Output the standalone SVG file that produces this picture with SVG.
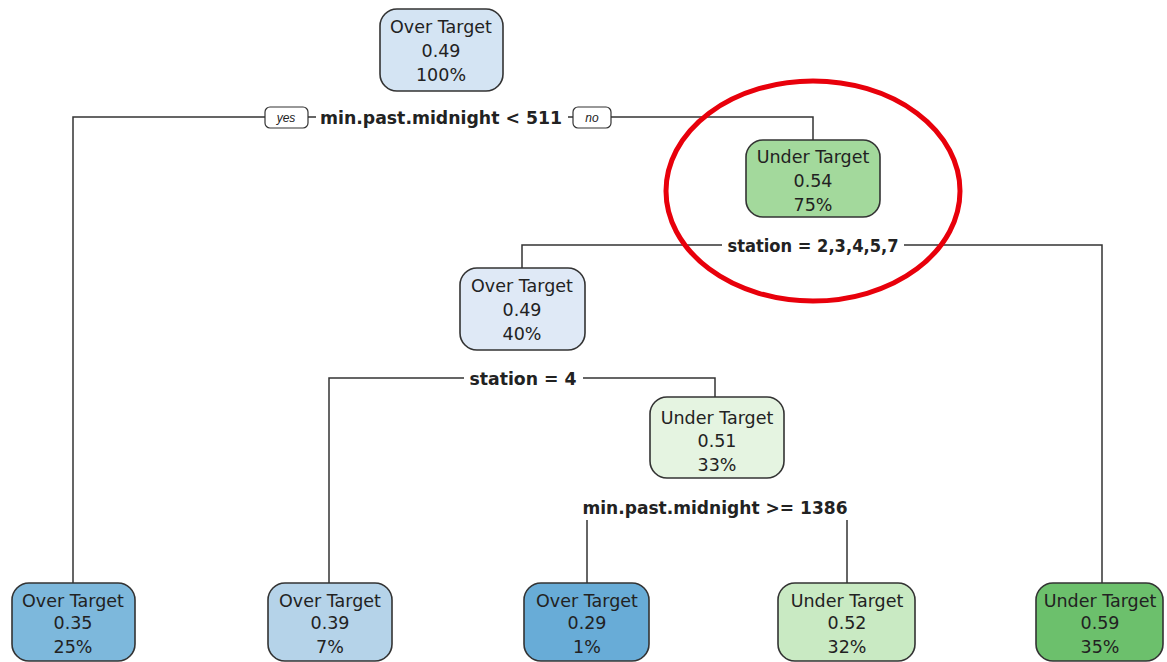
<svg xmlns="http://www.w3.org/2000/svg" width="1167" height="662" viewBox="0 0 1167 662">
<style>
.n{stroke:#333;stroke-width:1.6}
.t{font-family:"DejaVu Sans","Liberation Sans",sans-serif;font-size:17.5px;fill:#222;text-anchor:middle}
.s{font-family:"DejaVu Sans","Liberation Sans",sans-serif;font-size:17px;font-weight:bold;fill:#222;text-anchor:middle}
.c{fill:none;stroke:#333;stroke-width:1.5}
.yn{font-family:"Liberation Sans",Arial,sans-serif;font-size:12px;font-style:italic;fill:#222;text-anchor:middle}
</style>
<rect width="1167" height="662" fill="#fff"/>
<g id="connectors">
<polyline class="c" points="73,590 73,117 813,117 813,140"/>
<polyline class="c" points="522,268 522,245 1102,245 1102,583"/>
<polyline class="c" points="329,583 329,378 715,378 715,397"/>
<line class="c" x1="587" y1="520" x2="587" y2="583"/>
<line class="c" x1="847" y1="520" x2="847" y2="583"/>
<rect x="316" y="106" width="252" height="22" fill="#fff"/>
<text class="s" x="441" y="124" textLength="242" lengthAdjust="spacingAndGlyphs">min.past.midnight &lt; 511</text>
<rect x="265" y="107" width="43" height="21" rx="5" fill="#fff" stroke="#333" stroke-width="1.2"/>
<text class="yn" x="286" y="122">yes</text>
<rect x="573" y="107" width="38" height="21" rx="5" fill="#fff" stroke="#333" stroke-width="1.2"/>
<text class="yn" x="592" y="122">no</text>
<rect x="722" y="234" width="182" height="22" fill="#fff"/>
<text class="s" x="813" y="252" textLength="171" lengthAdjust="spacingAndGlyphs">station = 2,3,4,5,7</text>
<rect x="464" y="367" width="119" height="22" fill="#fff"/>
<text class="s" x="523" y="385" textLength="107" lengthAdjust="spacingAndGlyphs">station = 4</text>
<text class="s" x="715" y="514" textLength="265" lengthAdjust="spacingAndGlyphs">min.past.midnight &gt;= 1386</text>
</g>
<g id="n1"><rect class="n" x="380" y="9" width="123" height="82" rx="17" fill="#d4e4f3"/>
<text class="t" x="441" y="33">Over Target</text><text class="t" x="441" y="57">0.49</text><text class="t" x="441" y="81">100%</text></g>
<g id="n3"><rect class="n" x="746" y="140" width="134" height="77" rx="17" fill="#a3d99c"/>
<text class="t" x="813" y="163">Under Target</text><text class="t" x="813" y="187">0.54</text><text class="t" x="813" y="211">75%</text></g>
<g id="n6"><rect class="n" x="460" y="268" width="125" height="82" rx="17" fill="#dfe9f6"/>
<text class="t" x="522" y="292">Over Target</text><text class="t" x="522" y="316">0.49</text><text class="t" x="522" y="340">40%</text></g>
<g id="n13"><rect class="n" x="650" y="397" width="134" height="81" rx="17" fill="#e5f4e1"/>
<text class="t" x="717" y="424">Under Target</text><text class="t" x="717" y="447">0.51</text><text class="t" x="717" y="471">33%</text></g>
<g id="n2"><rect class="n" x="12" y="583" width="123" height="78" rx="17" fill="#7db8dc"/>
<text class="t" x="73" y="607">Over Target</text><text class="t" x="73" y="629">0.35</text><text class="t" x="73" y="653">25%</text></g>
<g id="n12"><rect class="n" x="268" y="583" width="124" height="78" rx="17" fill="#b5d3e9"/>
<text class="t" x="330" y="607">Over Target</text><text class="t" x="330" y="629">0.39</text><text class="t" x="330" y="653">7%</text></g>
<g id="n26"><rect class="n" x="524" y="583" width="125" height="78" rx="17" fill="#68acd7"/>
<text class="t" x="587" y="607">Over Target</text><text class="t" x="587" y="629">0.29</text><text class="t" x="587" y="653">1%</text></g>
<g id="n27"><rect class="n" x="778" y="583" width="137" height="78" rx="17" fill="#c9eac3"/>
<text class="t" x="847" y="607">Under Target</text><text class="t" x="847" y="629">0.52</text><text class="t" x="847" y="653">32%</text></g>
<g id="n7"><rect class="n" x="1036" y="583" width="127" height="78" rx="17" fill="#6cc06c"/>
<text class="t" x="1100" y="607">Under Target</text><text class="t" x="1100" y="629">0.59</text><text class="t" x="1100" y="653">35%</text></g>
<ellipse cx="813" cy="191" rx="147" ry="110" fill="none" stroke="#e8000b" stroke-width="5"/>
</svg>
